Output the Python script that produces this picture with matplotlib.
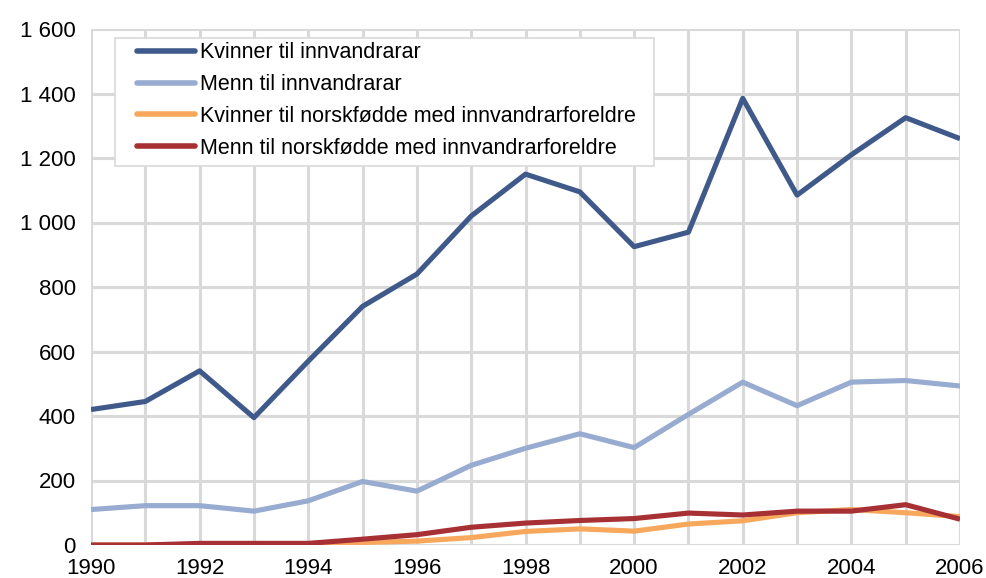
import matplotlib
matplotlib.use("Agg")
import matplotlib.pyplot as plt
from matplotlib.patches import Rectangle
from matplotlib.ticker import FuncFormatter, MultipleLocator

plt.rcParams['font.family'] = ['Liberation Sans', 'DejaVu Sans']

years = list(range(1990, 2007))
kvinner_innv = [420, 445, 540, 395, 570, 740, 840, 1020, 1150, 1095, 925, 970, 1385, 1085, 1210, 1325, 1260]
menn_innv = [110, 122, 122, 105, 137, 197, 167, 247, 300, 345, 302, 405, 505, 432, 505, 510, 493]
kvinner_norsk = [0, 0, 2, 3, 3, 8, 12, 23, 42, 50, 43, 65, 75, 100, 110, 100, 88]
menn_norsk = [0, 0, 5, 5, 5, 18, 32, 55, 68, 76, 82, 99, 93, 105, 105, 125, 80]

series = [
    ("Kvinner til innvandrarar", kvinner_innv, "#3f5a8a"),
    ("Menn til innvandrarar", menn_innv, "#98abd0"),
    ("Kvinner til norskfødde med innvandrarforeldre", kvinner_norsk, "#f7a85c"),
    ("Menn til norskfødde med innvandrarforeldre", menn_norsk, "#a63034"),
]

W, H = 987, 578
fig = plt.figure(figsize=(W / 100, H / 100), dpi=100)
ax = fig.add_axes([91 / W, 1 - 545 / H, 869 / W, 516 / H])

for label, vals, col in series:
    ax.plot(years, vals, color=col, lw=3.7, label=label, solid_capstyle='butt', zorder=3)

ax.set_xlim(1990, 2006)
ax.set_ylim(0, 1600)
ax.xaxis.set_major_locator(MultipleLocator(2))
ax.xaxis.set_minor_locator(MultipleLocator(1))
ax.yaxis.set_major_locator(MultipleLocator(200))
ax.yaxis.set_major_formatter(FuncFormatter(lambda v, p: f"{int(v):,}".replace(",", " ")))

ax.grid(True, which='both', axis='x', color='#d9d9d9', lw=2.2, zorder=0)
ax.grid(True, which='major', axis='y', color='#d9d9d9', lw=2.2, zorder=0)
ax.set_axisbelow(True)
for s in ax.spines.values():
    s.set_visible(False)
ax.tick_params(which='both', length=0, labelsize=16, colors='black')
ax.tick_params(axis='x', pad=9)
ax.tick_params(axis='y', pad=11)

# legend box drawn separately so the left padding can be wider than the top
ax.add_patch(Rectangle((115 / W, 1 - 166 / H), 539 / W, 128 / H,
                       transform=fig.transFigure, facecolor='white',
                       edgecolor='#d9d9d9', lw=1.2, zorder=4, clip_on=False))

leg = ax.legend(loc='upper left', bbox_to_anchor=(133 / W, 1 - 38 / H),
                bbox_transform=fig.transFigure, fontsize=15.5,
                frameon=False, handlelength=2.7, handletextpad=0.22,
                labelspacing=0.5, borderpad=0.2, borderaxespad=0)
leg.set_zorder(5)
for h in leg.get_lines():
    h.set_linewidth(4)
    h.set_solid_capstyle('round')

fig.savefig("out.png", dpi=100)
